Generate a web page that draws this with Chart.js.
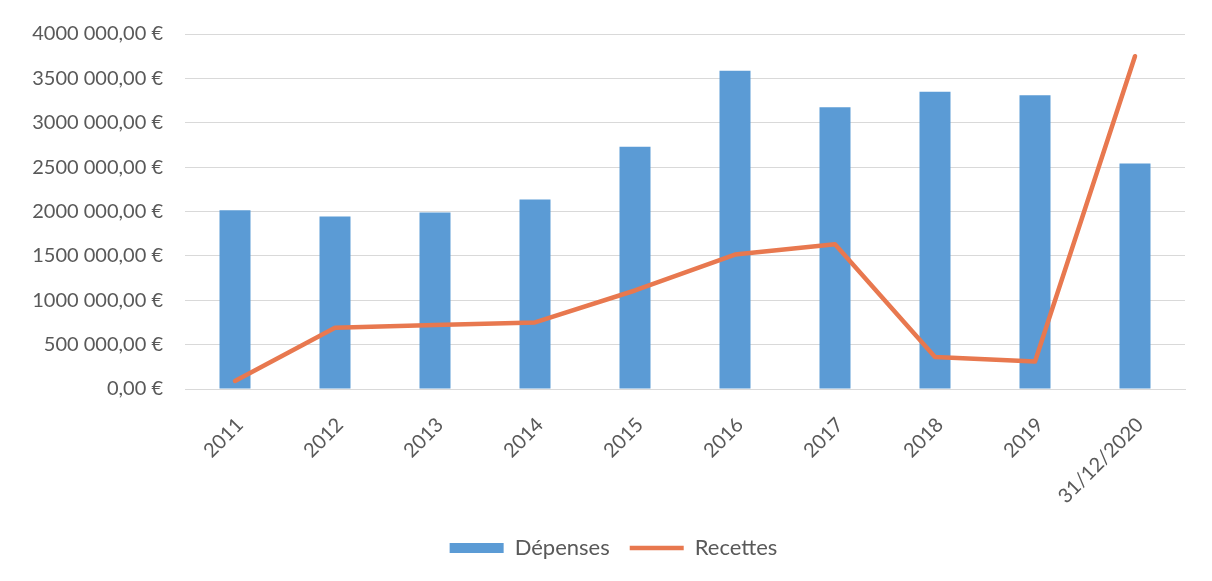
<!DOCTYPE html>
<html>
<head>
<meta charset="utf-8">
<script src="https://cdn.jsdelivr.net/npm/chart.js@4/dist/chart.umd.min.js"></script>
<style>
  html, body { margin: 0; padding: 0; background: #fff; }
  #wrap { width: 1212px; height: 581px; }
</style>
</head>
<body>
<div id="wrap"><canvas id="chart" width="1212" height="581"></canvas></div>
<script>
const years = ["2011", "2012", "2013", "2014", "2015", "2016", "2017", "2018", "2019", "31/12/2020"];
const depenses = [2015000, 1945000, 1990000, 2135000, 2730000, 3585000, 3175000, 3350000, 3310000, 2540000];
const recettes = [90000, 690000, 720000, 750000, 1110000, 1515000, 1630000, 360000, 310000, 3750000];
const yTicks = [0, 500000, 1000000, 1500000, 2000000, 2500000, 3000000, 3500000, 4000000];

const textColor = "#595959";
const fontFamily = "Lato, 'Open Sans', sans-serif";

// "4000 000,00 €" style, as in the source spreadsheet
function euro(v) {
  if (v === 0) return "0,00 €";
  const k = Math.floor(v / 1000);
  const rest = String(v % 1000).padStart(3, "0");
  return k + " " + rest + ",00 €";
}

// nudge the legend a little to the right, like the original
const legendShift = {
  id: "legendShift",
  afterLayout(chart) {
    chart.legend.left += 21;
    chart.legend.right += 21;
  }
};

new Chart(document.getElementById("chart"), {
  type: "bar",
  data: {
    labels: years,
    datasets: [
      {
        label: "Dépenses",
        data: depenses,
        backgroundColor: "#5b9bd5",
        categoryPercentage: 1,
        barPercentage: 0.31,
        pointStyle: "rect",
        order: 1
      },
      {
        type: "line",
        label: "Recettes",
        data: recettes,
        borderColor: "#e8784f",
        backgroundColor: "#e8784f",
        borderWidth: 4.5,
        tension: 0,
        pointRadius: 0,
        borderJoinStyle: "round",
        borderCapStyle: "round",
        pointStyle: "line",
        order: 0
      }
    ]
  },
  plugins: [legendShift],
  options: {
    responsive: false,
    animation: false,
    devicePixelRatio: 1,
    layout: { padding: { top: 34, right: 27, left: 0, bottom: 12 } },
    plugins: {
      tooltip: { enabled: false },
      legend: {
        position: "bottom",
        labels: {
          usePointStyle: true,
          pointStyleWidth: 54,
          boxHeight: 10,
          padding: 20,
          color: textColor,
          font: { family: fontFamily, size: 22 },
          sort: (a, b) => a.datasetIndex - b.datasetIndex
        }
      }
    },
    scales: {
      x: {
        grid: { display: false, drawTicks: false },
        border: { color: "#d9d9d9", width: 1 },
        ticks: {
          color: textColor,
          font: { family: fontFamily, size: 20 },
          minRotation: 45,
          maxRotation: 45,
          padding: 24,
          labelOffset: 5,
          autoSkip: false
        },
        afterFit: s => { s.height = 128; }
      },
      y: {
        min: 0,
        max: 4000000,
        afterBuildTicks: s => { s.ticks = yTicks.map(v => ({ value: v })); },
        grid: { color: "#d9d9d9", drawTicks: false },
        border: { display: false },
        ticks: {
          color: textColor,
          font: { family: fontFamily, size: 20 },
          padding: 22,
          callback: v => euro(v)
        },
        afterFit: s => { s.width = 185; }
      }
    }
  }
});
</script>
</body>
</html>
